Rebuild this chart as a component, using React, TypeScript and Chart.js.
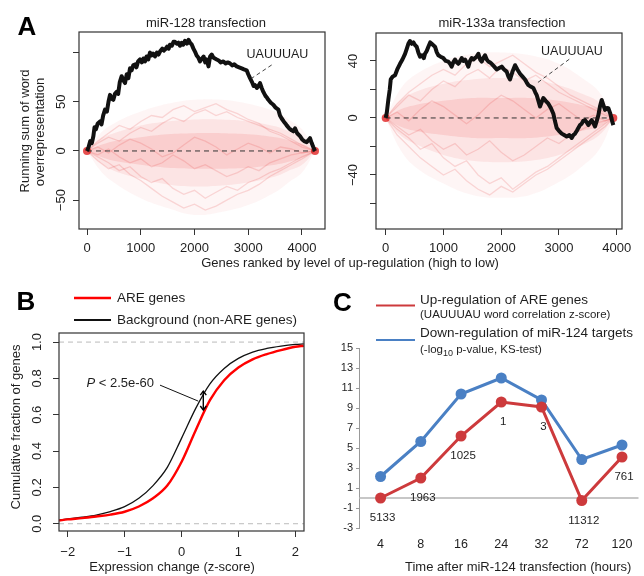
import React, { useEffect, useRef } from "react";
import { Chart, registerables } from "chart.js";
Chart.register(...registerables);

const FONT = "'Liberation Sans', Arial, Helvetica, sans-serif";
const W = 644;
const H = 576;
const MINUS = "\u2212";

// ---------- Panel A, left: miR-128 transfection ----------
const a1BlackX = [0, 30, 60, 90, 118, 140, 165, 200, 242, 270, 300, 335, 370, 400, 428, 460, 490, 520, 552, 580, 610, 645, 675, 707, 740, 770, 800, 830, 860, 893, 920, 950, 986, 1020, 1050, 1079, 1110, 1140, 1172, 1200, 1230, 1265, 1300, 1330, 1358, 1400, 1430, 1451, 1490, 1520, 1544, 1580, 1610, 1637, 1670, 1700, 1730, 1760, 1790, 1823, 1860, 1890, 1916, 1950, 1980, 2009, 2040, 2070, 2102, 2140, 2170, 2200, 2227, 2260, 2290, 2320, 2350, 2380, 2413, 2450, 2490, 2537, 2580, 2620, 2660, 2700, 2740, 2785, 2830, 2878, 2920, 2971, 3000, 3033, 3070, 3100, 3126, 3160, 3190, 3219, 3250, 3281, 3320, 3350, 3374, 3420, 3467, 3510, 3560, 3590, 3622, 3660, 3690, 3715, 3760, 3808, 3840, 3870, 3910, 3963, 4000, 4040, 4087, 4120, 4149, 4180, 4210, 4242];
const a1BlackY = [0, 4, 10, 8, 15, 24, 22, 28, 30, 27, 36, 42, 40, 50, 57, 53, 52, 58, 60, 58, 70, 76, 72, 69, 78, 74, 84, 82, 87, 88, 85, 91, 93, 90, 94, 91, 96, 93, 100, 97, 99, 96, 100, 98, 101, 104, 102, 103, 106, 104, 108, 107, 111, 111, 109, 110, 107, 110, 108, 112, 109, 113, 110, 108, 104, 101, 97, 95, 91, 94, 96, 90, 93, 86, 96, 98, 95, 94, 93, 92, 90, 91, 89, 90, 89, 87, 88, 86, 85, 84, 83, 82, 78, 74, 70, 66, 67, 64, 66, 69, 64, 60, 56, 54, 52, 49, 47, 44, 42, 36, 33, 30, 28, 26, 23, 21, 20, 23, 18, 15, 12, 10, 9, 11, 13, 8, 4, 0];
const a1End = 4242;
const a1XTicks = [0, 1000, 2000, 3000, 4000];
const a1YTicks = [-50, 0, 50, 100];
const a1YLabels = [MINUS + "50", "0", "50", ""];
const a1BandX = [0, 250, 500, 1000, 1500, 2000, 2500, 3000, 3500, 3750, 4000, 4242];
const a1OuterHi = [0, 18, 28, 40, 48, 52, 52, 48, 40, 32, 22, 0];
const a1OuterLo = [0, -20, -32, -48, -58, -65, -62, -55, -42, -32, -22, 0];
const a1MidHi = [0, 12, 18, 26, 30, 32, 32, 30, 25, 20, 14, 0];
const a1MidLo = [0, -12, -20, -28, -34, -36, -35, -32, -26, -20, -14, 0];
const a1InHi = [0, 6, 10, 14, 17, 18, 18, 17, 14, 11, 7, 0];
const a1InLo = [0, -6, -10, -14, -17, -18, -18, -17, -14, -11, -7, 0];
// a few of the background permutation walks, read by eye
const a1WalkX = [0, 200, 400, 600, 800, 1000, 1200, 1400, 1600, 1800, 2000, 2200, 2400, 2600, 2800, 3000, 3200, 3400, 3600, 3800, 4000, 4242];
const a1Walk1 = [0, 8, 14, 10, 18, 24, 20, 28, 34, 30, 38, 42, 36, 40, 34, 30, 26, 22, 18, 12, 6, 0];
const a1Walk2 = [0, -6, -12, -20, -16, -26, -32, -28, -38, -44, -40, -48, -42, -36, -40, -32, -28, -22, -18, -12, -6, 0];
const a1Walk3 = [0, 4, -2, 6, 12, 8, 2, -6, -2, 6, 14, 10, 4, -4, 2, 8, 4, -2, 4, 2, -2, 0];
const a1Walk4 = [0, -10, -18, -14, -24, -30, -38, -46, -52, -58, -54, -60, -56, -50, -44, -40, -34, -26, -20, -14, -8, 0];
const a1Walk5 = [0, 10, 18, 26, 22, 30, 36, 34, 42, 46, 40, 44, 48, 42, 38, 32, 28, 20, 16, 10, 4, 0];
const a1Walk6 = [0, -4, 2, -6, -12, -8, -16, -12, -4, -10, -18, -14, -20, -26, -22, -16, -20, -12, -8, -4, -2, 0];

// ---------- Panel A, right: miR-133a transfection ----------
const a2BlackX = [0, 20, 46, 70, 87, 120, 162, 200, 248, 290, 335, 360, 392, 420, 450, 479, 510, 537, 565, 595, 630, 660, 681, 710, 739, 770, 797, 825, 854, 885, 912, 950, 998, 1040, 1085, 1115, 1143, 1170, 1200, 1230, 1258, 1290, 1316, 1345, 1374, 1400, 1431, 1460, 1489, 1520, 1547, 1575, 1605, 1635, 1662, 1690, 1720, 1750, 1778, 1805, 1835, 1880, 1922, 1965, 2009, 2050, 2095, 2125, 2153, 2200, 2240, 2280, 2326, 2370, 2413, 2440, 2471, 2510, 2557, 2590, 2615, 2645, 2672, 2700, 2730, 2770, 2817, 2860, 2903, 2930, 2961, 3000, 3048, 3090, 3134, 3180, 3221, 3250, 3278, 3310, 3336, 3365, 3394, 3420, 3452, 3480, 3509, 3540, 3567, 3600, 3625, 3655, 3683, 3710, 3740, 3770, 3798, 3830, 3856, 3890, 3920, 3942];
const a2BlackY = [0, 4, 13, 20, 27, 29, 30, 34, 38, 41, 45, 48, 52, 54, 52, 53, 51, 50, 46, 43, 44, 42, 45, 47, 50, 53, 52, 51, 50, 46, 44, 43, 42, 40, 39.5, 38, 36, 39, 41, 39, 38, 40, 42, 40, 41, 39, 36, 40, 42, 41, 42, 43, 45, 41, 39.5, 42, 44, 41, 39.5, 39, 38, 36, 34, 35, 36, 34, 32.5, 29, 27, 33, 37, 34, 31, 29, 27, 25, 23, 22, 21, 18, 16, 12, 8, 11, 14, 12, 10, 7, 3, -2, -7, -9, -11, -12, -13, -12, -14, -12, -11, -9, -7, -5, -4, -2, -1.5, -3, -5, -3, -1.5, -4, -6, -2, 2, 8, 12.6, 9, 5.6, 7, 6.8, 3, -2, -5];
const a2End = 3942;
const a2XTicks = [0, 1000, 2000, 3000, 4000];
const a2YTicks = [-60, -40, -20, 0, 20, 40];
const a2YLabels = ["", MINUS + "40", "", "0", "", "40"];
const a2BandX = [0, 250, 500, 1000, 1500, 2000, 2500, 3000, 3400, 3700, 3942];
const a2OuterHi = [0, 20, 30, 40, 45, 46, 44, 38, 28, 18, 0];
const a2OuterLo = [0, -22, -34, -46, -54, -56, -54, -45, -34, -22, 0];
const a2MidHi = [0, 12, 18, 24, 27, 28, 27, 23, 17, 11, 0];
const a2MidLo = [0, -12, -18, -26, -30, -31, -30, -26, -19, -12, 0];
const a2InHi = [0, 6, 9, 12, 14, 14, 14, 12, 9, 6, 0];
const a2InLo = [0, -6, -9, -12, -14, -14, -14, -12, -9, -6, 0];
const a2WalkX = [0, 200, 400, 600, 800, 1000, 1200, 1400, 1600, 1800, 2000, 2200, 2400, 2600, 2800, 3000, 3200, 3400, 3600, 3800, 3942];
const a2Walk1 = [0, 8, 16, 12, 20, 26, 22, 30, 34, 28, 36, 32, 26, 30, 24, 18, 14, 10, 6, 2, 0];
const a2Walk2 = [0, -8, -14, -22, -18, -28, -34, -30, -40, -46, -42, -50, -44, -38, -34, -28, -22, -16, -10, -4, 0];
const a2Walk3 = [0, 4, -2, 6, 12, 8, 2, -4, 2, 10, 16, 12, 6, 0, 6, 10, 4, -2, 2, -2, 0];
const a2Walk4 = [0, -6, -12, -8, -16, -22, -18, -26, -22, -16, -24, -30, -26, -20, -14, -18, -12, -8, -4, -2, 0];
const a2Walk5 = [0, 10, 18, 24, 30, 34, 30, 38, 42, 36, 40, 44, 38, 32, 28, 22, 16, 12, 8, 4, 0];
const a2Walk6 = [0, -12, -20, -28, -34, -40, -36, -44, -50, -54, -48, -52, -46, -40, -36, -30, -24, -18, -12, -6, 0];

// ---------- Panel B: cumulative distributions ----------
const bX = [-2.15, -2, -1.75, -1.5, -1.25, -1, -0.75, -0.5, -0.25, 0, 0.25, 0.5, 0.75, 1, 1.25, 1.5, 1.75, 2, 2.15];
const bBackground = [0.02, 0.026, 0.036, 0.048, 0.067, 0.094, 0.14, 0.21, 0.31, 0.47, 0.635, 0.77, 0.855, 0.91, 0.945, 0.965, 0.978, 0.987, 0.99];
const bARE = [0.018, 0.024, 0.031, 0.04, 0.05, 0.066, 0.095, 0.14, 0.21, 0.34, 0.515, 0.68, 0.79, 0.86, 0.905, 0.934, 0.956, 0.974, 0.98];
const bXTicks = [-2, -1, 0, 1, 2];
const bXLabels = [MINUS + "2", MINUS + "1", "0", "1", "2"];
const bYTicks = [0, 0.2, 0.4, 0.6, 0.8, 1.0];
const bYLabels = ["0.0", "0.2", "0.4", "0.6", "0.8", "1.0"];
const bRefLines = [0, 1];

// ---------- Panel C: time course ----------
const cCategories = ["4", "8", "16", "24", "32", "72", "120"];
const cRed = [0, 2.0, 6.2, 9.6, 9.1, -0.25, 4.1];
const cBlue = [2.15, 5.65, 10.4, 12.0, 9.8, 3.85, 5.3];
const cPointLabels = ["5133", "1963", "1025", "1", "3", "11312", "761"];
const cYTicks = [-3, -1, 1, 3, 5, 7, 9, 11, 13, 15];

const RED_C = "#cd3a3c";
const BLUE_C = "#4a80c4";

const zip = (xs: number[], ys: number[]) => xs.map((x, i) => ({ x, y: ys[i] }));

function text(ctx: CanvasRenderingContext2D, s: string, x: number, y: number, o: any = {}) {
  ctx.save();
  ctx.font = `${o.style || "normal"} ${o.weight || "normal"} ${o.size || 13}px ${FONT}`;
  ctx.fillStyle = o.color || "#1e1e1e";
  ctx.textAlign = o.align || "center";
  ctx.textBaseline = "middle";
  ctx.translate(x, y);
  if (o.rot) ctx.rotate(o.rot);
  ctx.fillText(s, 0, 0);
  ctx.restore();
}

function line(ctx: CanvasRenderingContext2D, x1: number, y1: number, x2: number, y2: number, color: string, width: number, dash: number[] = []) {
  ctx.save();
  ctx.strokeStyle = color;
  ctx.lineWidth = width;
  ctx.setLineDash(dash);
  ctx.beginPath();
  ctx.moveTo(x1, y1);
  ctx.lineTo(x2, y2);
  ctx.stroke();
  ctx.restore();
}

const boxPlugin = {
  id: "box",
  afterDraw(chart: any) {
    const { ctx, chartArea: a } = chart;
    ctx.save();
    ctx.strokeStyle = "#333";
    ctx.lineWidth = 1.2;
    ctx.strokeRect(a.left, a.top, a.right - a.left, a.bottom - a.top);
    ctx.restore();
  },
};

function rotYLabels(values: number[], labels: string[], offset: number) {
  return {
    id: "rotY",
    afterDraw(chart: any) {
      const s = chart.scales.y;
      values.forEach((v, i) => {
        if (!labels[i]) return;
        text(chart.ctx, labels[i], chart.chartArea.left - offset, s.getPixelForValue(v), { rot: -Math.PI / 2 });
      });
    },
  };
}

function band(xs: number[], hi: number[], lo: number[], color: string, order: number) {
  return [
    { data: zip(xs, hi), borderWidth: 0, pointRadius: 0, fill: "+1", backgroundColor: color, order, tension: 0.4 },
    { data: zip(xs, lo), borderWidth: 0, pointRadius: 0, fill: false, order, tension: 0.4 },
  ];
}

function walk(xs: number[], ys: number[], order: number) {
  return { data: zip(xs, ys), borderColor: "rgba(225,40,40,0.16)", borderWidth: 1.3, pointRadius: 0, fill: false, order, tension: 0 };
}

function rScales(xMin: number, xMax: number, xTicks: number[], xLabels: string[], xPad: number, yMin: number, yMax: number, yTicks: number[]) {
  return {
    x: {
      type: "linear",
      min: xMin,
      max: xMax,
      afterBuildTicks: (s: any) => { s.ticks = xTicks.map((v) => ({ value: v })); },
      afterFit: (s: any) => { s.height = 30; },
      ticks: {
        autoSkip: false,
        maxRotation: 0,
        padding: xPad,
        color: "#1e1e1e",
        font: { family: FONT, size: 13 },
        callback: (v: number) => xLabels[xTicks.indexOf(v)] ?? "",
      },
      grid: { display: true, drawOnChartArea: false, drawTicks: true, tickLength: 6, color: "#333", lineWidth: 1 },
      border: { display: false },
    },
    y: {
      type: "linear",
      min: yMin,
      max: yMax,
      afterBuildTicks: (s: any) => { s.ticks = yTicks.map((v) => ({ value: v })); },
      afterFit: (s: any) => { s.width = 6; },
      ticks: { display: false },
      grid: { display: true, drawOnChartArea: false, drawTicks: true, tickLength: 6, color: "#333", lineWidth: 1 },
      border: { display: false },
    },
  };
}

const baseOpts = {
  responsive: false,
  animation: false,
  events: [],
  plugins: { legend: { display: false }, tooltip: { enabled: false }, title: { display: false } },
};

function panelA(p: any) {
  return {
    type: "line",
    data: {
      datasets: [
        { data: zip(p.blackX, p.blackY), borderColor: "#111", borderWidth: 4, pointRadius: 0, fill: false, order: 0, borderJoinStyle: "round", tension: 0 },
        { data: zip([0, p.end], [0, 0]), borderColor: "#333", borderWidth: 1, borderDash: [5, 4], pointRadius: 0, fill: false, order: 1 },
        { data: zip([0, p.end], [0, 0]), showLine: false, pointRadius: 4, pointBackgroundColor: "rgba(222,20,20,0.75)", pointBorderWidth: 0, order: 2 },
        ...band(p.bandX, p.inHi, p.inLo, "rgba(228,40,40,0.12)", 4),
        ...band(p.bandX, p.midHi, p.midLo, "rgba(232,50,50,0.09)", 5),
        ...band(p.bandX, p.outHi, p.outLo, "rgba(236,70,70,0.055)", 6),
        ...p.walks.map((w: number[]) => walk(p.walkX, w, 3)),
      ],
    },
    options: {
      ...baseOpts,
      layout: { padding: p.padding },
      scales: rScales(p.xMin, p.xMax, p.xTicks, p.xTicks.map(String), 5.5, p.yMin, p.yMax, p.yTicks),
    },
    plugins: [boxPlugin, rotYLabels(p.yTicks, p.yLabels, p.yLabOffset), p.overlay],
  };
}

const a1Overlay = {
  id: "a1Overlay",
  afterDraw(chart: any) {
    const ctx = chart.ctx;
    const sx = chart.scales.x, sy = chart.scales.y;
    text(ctx, "A", 27, 28, { size: 26, weight: "bold", color: "#000" });
    text(ctx, "miR-128 transfection", 206, 23, { size: 13 });
    text(ctx, "Running sum of word", 25, 131, { size: 13, rot: -Math.PI / 2 });
    text(ctx, "overrepresentation", 40, 132, { size: 13, rot: -Math.PI / 2 });
    text(ctx, "Genes ranked by level of up-regulation (high to low)", 350, 263, { size: 13 });
    text(ctx, "UAUUUAU", sx.getPixelForValue(3544), sy.getPixelForValue(97.6), { size: 12.5 });
    line(ctx, sx.getPixelForValue(3436), sy.getPixelForValue(87.4), sx.getPixelForValue(3064), sy.getPixelForValue(73.9), "#444", 1, [4, 3]);
  },
};

const a2Overlay = {
  id: "a2Overlay",
  afterDraw(chart: any) {
    const ctx = chart.ctx;
    const sx = chart.scales.x, sy = chart.scales.y;
    text(ctx, "miR-133a transfection", 502, 23, { size: 13 });
    text(ctx, "UAUUUAU", sx.getPixelForValue(3226), sy.getPixelForValue(46.5), { size: 12.5 });
    line(ctx, sx.getPixelForValue(3179), sy.getPixelForValue(41.2), sx.getPixelForValue(2632), sy.getPixelForValue(24.8), "#444", 1, [4, 3]);
  },
};

function cfgA1() {
  return panelA({
    blackX: a1BlackX, blackY: a1BlackY, end: a1End,
    bandX: a1BandX, inHi: a1InHi, inLo: a1InLo, midHi: a1MidHi, midLo: a1MidLo, outHi: a1OuterHi, outLo: a1OuterLo,
    walkX: a1WalkX, walks: [a1Walk1, a1Walk2, a1Walk3, a1Walk4, a1Walk5, a1Walk6],
    xMin: -149, xMax: 4428, yMin: -79.3, yMax: 120.9, xTicks: a1XTicks, yTicks: a1YTicks, yLabels: a1YLabels,
    yLabOffset: 18, padding: { left: 73, top: 32, right: 319, bottom: 317 }, overlay: a1Overlay,
  });
}

function cfgA2() {
  return panelA({
    blackX: a2BlackX, blackY: a2BlackY, end: a2End,
    bandX: a2BandX, inHi: a2InHi, inLo: a2InLo, midHi: a2MidHi, midLo: a2MidLo, outHi: a2OuterHi, outLo: a2OuterLo,
    walkX: a2WalkX, walks: [a2Walk1, a2Walk2, a2Walk3, a2Walk4, a2Walk5, a2Walk6],
    xMin: -168, xMax: 4092, yMin: -77.9, yMax: 59.6, xTicks: a2XTicks, yTicks: a2YTicks, yLabels: a2YLabels,
    yLabOffset: 22.5, padding: { left: 370, top: 33, right: 22, bottom: 317 }, overlay: a2Overlay,
  });
}

const bOverlay = {
  id: "bOverlay",
  afterDraw(chart: any) {
    const ctx = chart.ctx;
    const sx = chart.scales.x, sy = chart.scales.y;
    text(ctx, "B", 26, 303, { size: 26, weight: "bold", color: "#000" });
    line(ctx, 74, 298, 111, 298, "#f00", 2.5);
    text(ctx, "ARE genes", 117, 298, { size: 13.5, align: "left" });
    line(ctx, 74, 320, 111, 320, "#111", 2);
    text(ctx, "Background (non-ARE genes)", 117, 320, { size: 13.5, align: "left" });
    text(ctx, "Cumulative fraction of genes", 16, 427, { size: 13, rot: -Math.PI / 2 });
    text(ctx, "Expression change (z-score)", 172, 567, { size: 13 });
    const tx = sx.getPixelForValue(-0.483), ty = sy.getPixelForValue(0.773);
    ctx.save();
    ctx.font = `normal normal 13px ${FONT}`;
    const rest = " < 2.5e-60";
    const wRest = ctx.measureText(rest).width;
    ctx.restore();
    text(ctx, rest, tx, ty, { size: 13, align: "right" });
    text(ctx, "P", tx - wRest, ty, { size: 13, align: "right", style: "italic" });
    line(ctx, sx.getPixelForValue(-0.378), sy.getPixelForValue(0.763), sx.getPixelForValue(0.295), sy.getPixelForValue(0.675), "#111", 1);
    const ax = sx.getPixelForValue(0.383), ay1 = sy.getPixelForValue(0.73), ay2 = sy.getPixelForValue(0.626);
    line(ctx, ax, ay1, ax, ay2, "#000", 1.4);
    ctx.save();
    ctx.strokeStyle = "#000";
    ctx.lineWidth = 1.4;
    ctx.beginPath();
    ctx.moveTo(ax - 3, ay1 + 4); ctx.lineTo(ax, ay1); ctx.lineTo(ax + 3, ay1 + 4);
    ctx.moveTo(ax - 3, ay2 - 4); ctx.lineTo(ax, ay2); ctx.lineTo(ax + 3, ay2 - 4);
    ctx.stroke();
    ctx.restore();
  },
};

function cfgB() {
  return {
    type: "line",
    data: {
      datasets: [
        { data: zip(bX, bARE), borderColor: "#f00", borderWidth: 2.4, pointRadius: 0, fill: false, cubicInterpolationMode: "monotone", order: 0 },
        { data: zip(bX, bBackground), borderColor: "#111", borderWidth: 1.3, pointRadius: 0, fill: false, cubicInterpolationMode: "monotone", order: 1 },
        ...bRefLines.map((v) => ({ data: zip([-2.153, 2.153], [v, v]), borderColor: "#bbb", borderWidth: 1, borderDash: [5, 4], pointRadius: 0, fill: false, order: 2 })),
      ],
    },
    options: {
      ...baseOpts,
      layout: { padding: { left: 53, top: 333, right: 340, bottom: 15 } },
      scales: rScales(-2.153, 2.153, bXTicks, bXLabels, 7.9, -0.04, 1.05, bYTicks),
    },
    plugins: [boxPlugin, rotYLabels(bYTicks, bYLabels, 21.5), bOverlay],
  };
}

const cOverlay = {
  id: "cOverlay",
  beforeDatasetsDraw(chart: any) {
    const y0 = chart.scales.y.getPixelForValue(0);
    line(chart.ctx, chart.chartArea.left, y0, chart.chartArea.right, y0, "#b5b5b5", 1.5);
  },
  afterDraw(chart: any) {
    const ctx = chart.ctx;
    const sx = chart.scales.x, sy = chart.scales.y;
    text(ctx, "C", 342.5, 304, { size: 26, weight: "bold", color: "#000" });
    line(ctx, 376, 305.5, 415, 305.5, RED_C, 2);
    line(ctx, 376, 340, 415, 340, BLUE_C, 2);
    text(ctx, "Up-regulation of ARE genes", 420, 300, { size: 13.5, align: "left" });
    text(ctx, "(UAUUUAU word correlation z-score)", 420, 314.5, { size: 11.5, align: "left" });
    text(ctx, "Down-regulation of miR-124 targets", 420, 333, { size: 13.5, align: "left" });
    ctx.save();
    ctx.font = `normal normal 11.5px ${FONT}`;
    const w1 = ctx.measureText("(-log").width;
    ctx.font = `normal normal 9px ${FONT}`;
    const w2 = ctx.measureText("10").width;
    ctx.restore();
    text(ctx, "(-log", 420, 350, { size: 11.5, align: "left" });
    text(ctx, "10", 420 + w1, 353.5, { size: 9, align: "left" });
    text(ctx, " p-value, KS-test)", 420 + w1 + w2, 350, { size: 11.5, align: "left" });
    text(ctx, "Time after miR-124 transfection (hours)", 405, 567, { size: 13, align: "left" });
    cRed.forEach((v, i) => {
      text(ctx, cPointLabels[i], sx.getPixelForValue(i) + 2, sy.getPixelForValue(v) + 20, { size: 11.5 });
    });
  },
};

function cfgC() {
  const idx = cCategories.map((_, i) => i);
  return {
    type: "line",
    data: {
      datasets: [
        { data: zip(idx, cRed), borderColor: RED_C, backgroundColor: RED_C, borderWidth: 3, pointRadius: 5.5, pointBorderWidth: 0, pointBackgroundColor: RED_C, fill: false, order: 0, clip: false },
        { data: zip(idx, cBlue), borderColor: BLUE_C, backgroundColor: BLUE_C, borderWidth: 3, pointRadius: 5.5, pointBorderWidth: 0, pointBackgroundColor: BLUE_C, fill: false, order: 1, clip: false },
      ],
    },
    options: {
      ...baseOpts,
      layout: { padding: { left: 319, top: 348, right: 0, bottom: 18 } },
      scales: {
        x: {
          type: "linear",
          min: -0.536,
          max: 6.41,
          afterBuildTicks: (s: any) => { s.ticks = idx.map((v) => ({ value: v })); },
          afterFit: (s: any) => { s.height = 30; },
          ticks: { autoSkip: false, maxRotation: 0, padding: 9.5, color: "#1e1e1e", font: { family: FONT, size: 12.5 }, callback: (v: number) => cCategories[v] ?? "" },
          grid: { display: false, drawTicks: false },
          border: { display: false },
        },
        y: {
          type: "linear",
          min: -3,
          max: 15,
          afterBuildTicks: (s: any) => { s.ticks = cYTicks.map((v) => ({ value: v })); },
          afterFit: (s: any) => { s.width = 40; },
          ticks: { padding: 3, color: "#1e1e1e", font: { family: FONT, size: 11 }, callback: (v: number) => String(v) },
          grid: { display: true, drawOnChartArea: false, drawTicks: true, tickLength: 3, color: "#999" },
          border: { display: true, color: "#999", width: 1 },
        },
      },
    },
    plugins: [cOverlay],
  };
}

export default function App() {
  const r1 = useRef<HTMLCanvasElement>(null);
  const r2 = useRef<HTMLCanvasElement>(null);
  const r3 = useRef<HTMLCanvasElement>(null);
  const r4 = useRef<HTMLCanvasElement>(null);
  useEffect(() => {
    const charts = [
      new Chart(r1.current as any, cfgA1() as any),
      new Chart(r2.current as any, cfgA2() as any),
      new Chart(r3.current as any, cfgB() as any),
      new Chart(r4.current as any, cfgC() as any),
    ];
    return () => charts.forEach((c) => c.destroy());
  }, []);
  const st: React.CSSProperties = { position: "absolute", left: 0, top: 0, width: W, height: H };
  return (
    <div style={{ position: "absolute", left: 0, top: 0, width: W, height: H, background: "#fff", overflow: "hidden" }}>
      <canvas ref={r1} width={W} height={H} style={st} />
      <canvas ref={r2} width={W} height={H} style={st} />
      <canvas ref={r3} width={W} height={H} style={st} />
      <canvas ref={r4} width={W} height={H} style={st} />
    </div>
  );
}
